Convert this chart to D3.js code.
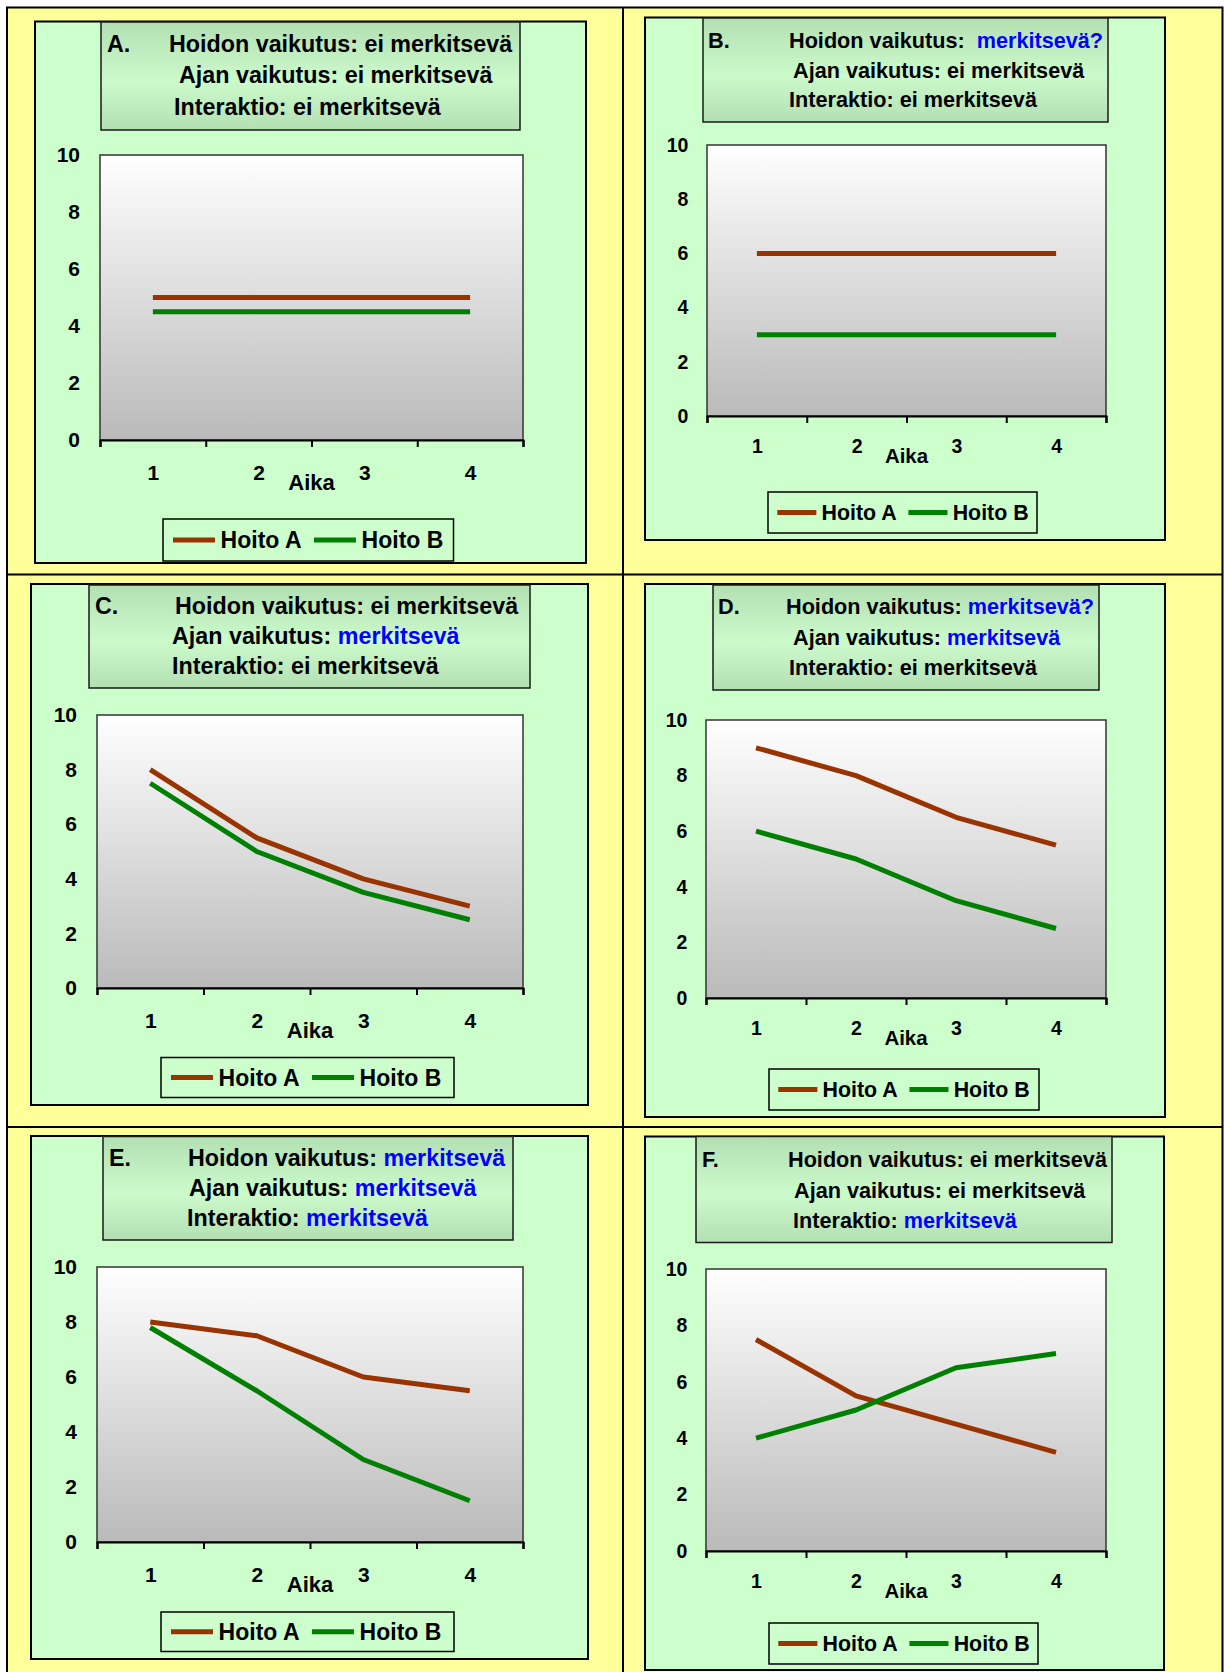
<!DOCTYPE html>
<html>
<head>
<meta charset="utf-8">
<script src="https://cdn.jsdelivr.net/npm/d3@7"></script>
<style>
  body { margin: 0; background: #fff; }
  text { font-family: "Liberation Sans", Arial, sans-serif; font-weight: bold; }
</style>
</head>
<body>
<div id="chart"></div>
<script>
// data
var categories = [1, 2, 3, 4];
var yTicks = [0, 2, 4, 6, 8, 10];
var seriesNames = ["Hoito A", "Hoito B"];
var panelLetters = ["A.", "B.", "C.", "D.", "E.", "F."];

var hoitoA = [
  [5, 5, 5, 5],
  [6, 6, 6, 6],
  [8, 5.5, 4, 3],
  [9, 8, 6.5, 5.5],
  [8, 7.5, 6, 5.5],
  [7.5, 5.5, 4.5, 3.5]
];
var hoitoB = [
  [4.5, 4.5, 4.5, 4.5],
  [3, 3, 3, 3],
  [7.5, 5, 3.5, 2.5],
  [6, 5, 3.5, 2.5],
  [7.8, 5.5, 3, 1.5],
  [4, 5, 6.5, 7]
];

var lineLabels = ["Hoidon vaikutus: ", "Ajan vaikutus: ", "Interaktio: "];
var hoidonResult = ["ei merkitsevä", "merkitsevä?", "ei merkitsevä", "merkitsevä?", "merkitsevä", "ei merkitsevä"];
var ajanResult = ["ei merkitsevä", "ei merkitsevä", "merkitsevä", "merkitsevä", "merkitsevä", "ei merkitsevä"];
var interResult = ["ei merkitsevä", "ei merkitsevä", "ei merkitsevä", "ei merkitsevä", "merkitsevä", "merkitsevä"];

var colors = ["#993300", "#008000"];

// layout of each panel (boxes as [x0, y0, x1, y1])
var layout = [
  {green: [35, 21.5, 586, 563], title: [101, 22, 520, 130], tx: [107, 169, 179, 174], ty: [52, 83, 115],
   plot: [100, 155, 523, 440], legend: [163, 519, 453.5, 561], s: 1},
  {green: [645, 17.5, 1165, 540], title: [703, 18, 1108, 122], tx: [708, 789, 793, 789], ty: [47.5, 77.5, 107],
   plot: [707, 145, 1106, 416], legend: [768, 492, 1037, 533], s: 0.93},
  {green: [31, 584, 588, 1105], title: [89, 585, 530, 688], tx: [95, 175, 172, 172], ty: [613.5, 644, 673.5],
   plot: [97, 715, 523, 988], legend: [161, 1057.5, 454, 1097.5], s: 1},
  {green: [645, 584, 1165, 1117], title: [713, 585, 1099, 690], tx: [718, 786, 793, 789], ty: [614, 644.5, 675],
   plot: [706, 720, 1106, 998], legend: [769, 1069, 1039, 1110], s: 0.93},
  {green: [31, 1136, 588, 1659], title: [103, 1136.5, 513, 1240], tx: [109, 188, 189, 187], ty: [1166, 1196, 1225.5],
   plot: [97, 1267, 523, 1542], legend: [161, 1612, 454, 1651.5], s: 1},
  {green: [645, 1136.5, 1164, 1670], title: [696, 1136.5, 1112, 1242.5], tx: [702, 788, 794, 793], ty: [1167, 1197.5, 1228],
   plot: [706, 1269, 1106, 1551], legend: [769, 1623, 1038, 1664], s: 0.93}
];

var W = 1224, H = 1672;

var svg = d3.select("#chart").append("svg")
  .attr("width", W)
  .attr("height", H);

var defs = svg.append("defs");
var tg = defs.append("linearGradient").attr("id", "titleGrad")
  .attr("x1", 0).attr("y1", 0).attr("x2", 0).attr("y2", 1);
tg.append("stop").attr("offset", "0%").attr("stop-color", "#b3e0b3");
tg.append("stop").attr("offset", "55%").attr("stop-color", "#cbfacb");
tg.append("stop").attr("offset", "100%").attr("stop-color", "#b3e0b3");

var pg = defs.append("linearGradient").attr("id", "plotGrad")
  .attr("x1", 0).attr("y1", 0).attr("x2", 0).attr("y2", 1);
pg.append("stop").attr("offset", "0%").attr("stop-color", "#ffffff");
pg.append("stop").attr("offset", "100%").attr("stop-color", "#bababa");

// outer table
svg.append("rect")
  .attr("x", 7).attr("y", 7.5).attr("width", 1215.5).attr("height", 1670)
  .attr("fill", "#ffff99").attr("stroke", "#000").attr("stroke-width", 2);
svg.append("line").attr("x1", 623).attr("x2", 623).attr("y1", 7.5).attr("y2", H)
  .attr("stroke", "#000").attr("stroke-width", 2);
[574.5, 1127].forEach(function (y) {
  svg.append("line").attr("x1", 7).attr("x2", 1222.5).attr("y1", y).attr("y2", y)
    .attr("stroke", "#000").attr("stroke-width", 2);
});

function box(b) {
  return {x: b[0], y: b[1], w: b[2] - b[0], h: b[3] - b[1]};
}

layout.forEach(function (L, i) {
  var s = L.s;
  var g = svg.append("g");

  var gb = box(L.green);
  g.append("rect").attr("x", gb.x).attr("y", gb.y).attr("width", gb.w).attr("height", gb.h)
    .attr("fill", "#ccffcc").attr("stroke", "#000").attr("stroke-width", 2);

  // title box
  var tb = box(L.title);
  g.append("rect").attr("x", tb.x).attr("y", tb.y).attr("width", tb.w).attr("height", tb.h)
    .attr("fill", "url(#titleGrad)").attr("stroke", "#1a1a1a").attr("stroke-width", 1.5);

  var fsT = 23.3 * s;
  g.append("text").attr("x", L.tx[0]).attr("y", L.ty[0])
    .attr("font-size", fsT).attr("fill", "#000").text(panelLetters[i]);

  var results = [hoidonResult[i], ajanResult[i], interResult[i]];
  results.forEach(function (r, k) {
    var t = g.append("text").attr("x", L.tx[k + 1]).attr("y", L.ty[k])
      .attr("font-size", fsT).attr("fill", "#000");
    var sig = r.indexOf("ei") !== 0;
    if (sig) {
      t.append("tspan").text(lineLabels[k]);
      t.append("tspan").attr("fill", "#0000ff")
        .attr("dx", (i === 1 && k === 0) ? 6 : 0)
        .text(r);
    } else {
      t.append("tspan").text(lineLabels[k] + r);
    }
  });

  // plot area
  var pb = box(L.plot);
  var x = d3.scaleLinear().domain([0.5, 4.5]).range([L.plot[0], L.plot[2]]);
  var y = d3.scaleLinear().domain([0, 10]).range([L.plot[3], L.plot[1]]);

  g.append("rect").attr("x", pb.x).attr("y", pb.y).attr("width", pb.w).attr("height", pb.h)
    .attr("fill", "url(#plotGrad)").attr("stroke", "#333").attr("stroke-width", 1.5);

  // y axis labels
  var ya = g.append("g").attr("transform", "translate(" + L.plot[0] + ",0)")
    .call(d3.axisLeft(y).tickValues(yTicks).tickSize(0).tickPadding(20 * s));
  ya.select(".domain").remove();
  ya.selectAll("text").attr("font-size", 21 * s).attr("fill", "#000")
    .style("font-family", "'Liberation Sans', Arial, sans-serif").style("font-weight", "bold");

  // x axis: ticks between categories
  var xt = g.append("g").attr("transform", "translate(0," + L.plot[3] + ")")
    .call(d3.axisBottom(x).tickValues([0.5, 1.5, 2.5, 3.5, 4.5]).tickSize(7).tickFormat(""));
  xt.select(".domain").attr("stroke", "#000").attr("stroke-width", 2.2);
  xt.selectAll(".tick line").attr("stroke", "#000").attr("stroke-width", 2);

  var xl = g.append("g").attr("transform", "translate(0," + L.plot[3] + ")")
    .call(d3.axisBottom(x).tickValues(categories).tickSize(0).tickPadding(40 * s - 0.71 * 21 * s).tickFormat(d3.format("d")));
  xl.select(".domain").remove();
  xl.selectAll("text").attr("font-size", 21 * s).attr("fill", "#000")
    .style("font-family", "'Liberation Sans', Arial, sans-serif").style("font-weight", "bold");

  g.append("text").attr("x", (L.plot[0] + L.plot[2]) / 2).attr("y", L.plot[3] + 50 * s)
    .attr("text-anchor", "middle").attr("font-size", 22 * s).attr("fill", "#000").text("Aika");

  // series
  var line = d3.line()
    .x(function (d, j) { return x(categories[j]); })
    .y(function (d) { return y(d); });

  [hoitoA[i], hoitoB[i]].forEach(function (vals, k) {
    g.append("path").datum(vals)
      .attr("d", line)
      .attr("fill", "none")
      .attr("stroke", colors[k])
      .attr("stroke-width", 5)
      .attr("stroke-linejoin", "round");
  });

  // legend
  var lb = box(L.legend);
  g.append("rect").attr("x", lb.x).attr("y", lb.y).attr("width", lb.w).attr("height", lb.h)
    .attr("fill", "#ccffcc").attr("stroke", "#000").attr("stroke-width", 1.5);
  var cy = lb.y + lb.h / 2;
  seriesNames.forEach(function (name, k) {
    var ox = lb.x + k * 141 * s;
    g.append("line").attr("x1", ox + 10 * s).attr("x2", ox + 52 * s)
      .attr("y1", cy).attr("y2", cy)
      .attr("stroke", colors[k]).attr("stroke-width", 5);
    g.append("text").attr("x", ox + 57.6 * s).attr("y", cy + 8.3 * s)
      .attr("font-size", 23 * s).attr("fill", "#000").text(name);
  });
});
</script>
</body>
</html>
